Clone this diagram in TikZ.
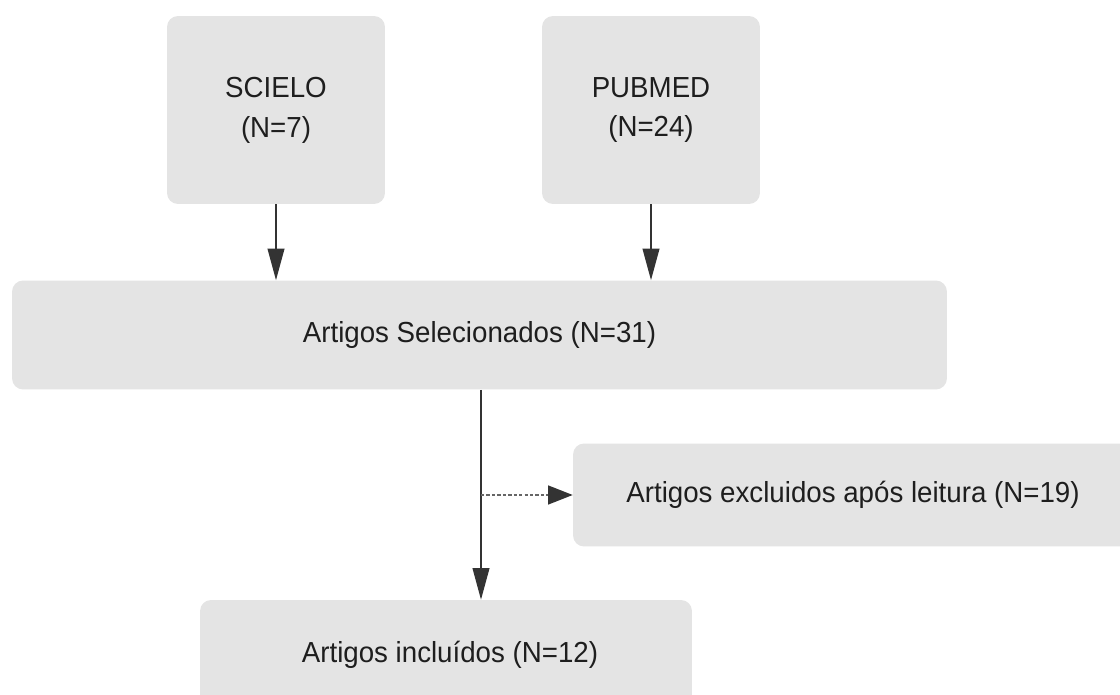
\documentclass[tikz,border=0pt]{standalone}
\usepackage{fontspec}
\setmainfont{Liberation Sans}[FakeStretch=0.955]
\usetikzlibrary{arrows.meta}
\definecolor{boxgray}{RGB}{228,228,228}
\definecolor{txtgray}{RGB}{30,30,30}
\definecolor{lingray}{RGB}{51,51,51}
\begin{document}
\begin{tikzpicture}[x=0.02cm,y=-0.02cm,
		box/.style={fill=boxgray,rounded corners=0.22cm,inner sep=0pt,align=center,text=txtgray,
			font=\fontsize{16.5}{22.7}\selectfont},
		varr/.style={draw=lingray,line width=0.8pt,-{Triangle[length=18pt,width=9.6pt]}},
		harr/.style={draw=lingray!75,line width=0.8pt,dash pattern=on 1.9pt off 1.2pt,
			-{Triangle[length=14pt,width=10.8pt,color=lingray,fill=lingray]}}]
	\useasboundingbox (0,0) rectangle (1120,695);
	\clip (0,0) rectangle (1120,695);
	% fontes
	\node[box,minimum width=4.36cm,minimum height=3.76cm] (scielo) at (276,110) {SCIELO\\(N=7)};
	\node[box,minimum width=4.36cm,minimum height=3.76cm] (pubmed) at (651,110) {PUBMED\\(N=24)};
	% triagem
	\node[box,minimum width=18.7cm,minimum height=2.18cm] (sel) at (479.5,335) {Artigos Selecionados (N=31)};
	\node[box,minimum width=11.2cm,minimum height=2.06cm] (excl) at (853,495) {Artigos excluidos após leitura (N=19)};
	\node[box,minimum width=9.84cm,minimum height=2.2cm] (incl) at (446,655) {\hspace{0.16cm}Artigos incluídos (N=12)};
	\coordinate (split) at (481,495);
	\draw[varr] (scielo.south) -- (scielo.south |- sel.north);
	\draw[varr] (pubmed.south) -- (pubmed.south |- sel.north);
	\draw[varr] (sel.south -| split) -- (split |- incl.north);
	\draw[harr] (split) -- (excl.west);
\end{tikzpicture}
\end{document}
